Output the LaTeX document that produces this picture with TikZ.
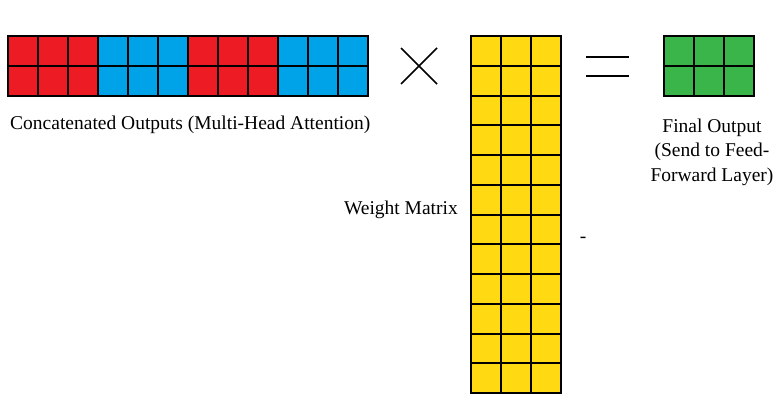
\documentclass[tikz,border=0pt]{standalone}
\usepackage{fontspec}
\setmainfont{Liberation Serif}
\definecolor{headred}{HTML}{ED1C24}
\definecolor{headblue}{HTML}{00A2E8}
\definecolor{weightyellow}{HTML}{FFDA12}
\definecolor{outgreen}{HTML}{39B54A}
\begin{document}
\begin{tikzpicture}
        [
            x                = 1pt,
            y                = -1pt,
            cell/.style      = {draw=black, line width=2pt},
            caption/.style   = {font=\fontsize{19.5}{24.5}\selectfont, inner sep=0pt, align=center},
            operator/.style  = {draw=black, line width=1.6pt},
        ]
        \useasboundingbox (0,0) rectangle (778,407);
        % concatenated heads: 4 heads of 3 columns, 2 rows
        \foreach \h/\clr in {0/headred, 1/headblue, 2/headred, 3/headblue}
            \foreach \c in {0,1,2}
                \foreach \r in {0,1}
                    \filldraw [cell, fill=\clr] (8+90*\h+30*\c, 36+30*\r) rectangle ++(30,30);
        % times sign
        \draw [operator] (401,48) -- (437,84);
        \draw [operator] (437,48) -- (401,84);
        % weight matrix: 3 columns, 12 rows
        \foreach \c in {0,1,2}
            \foreach \r in {0,...,11}
                \filldraw [cell, fill=weightyellow] (471+30*\c, 36+29.75*\r) rectangle ++(30,29.75);
        % equals sign
        \draw [operator, line width=2.4pt] (586,57) -- (629,57);
        \draw [operator, line width=2.4pt] (586,76) -- (629,76);
        % final output: 3 columns, 2 rows
        \foreach \c in {0,1,2}
            \foreach \r in {0,1}
                \filldraw [cell, fill=outgreen] (664+30*\c, 36+30*\r) rectangle ++(30,30);
        % captions
        \node [caption, anchor=west] (concat) at (10,125) {Concatenated Outputs (Multi-Head Attention)};
        \node [caption] (final) at (712,152) {Final Output\\(Send to Feed-\\Forward Layer)};
        \node [caption, anchor=east] (weight) at (458,210) {Weight Matrix};
        \node [caption] (dash) at (583,240) {-};
    \end{tikzpicture}
\end{document}
